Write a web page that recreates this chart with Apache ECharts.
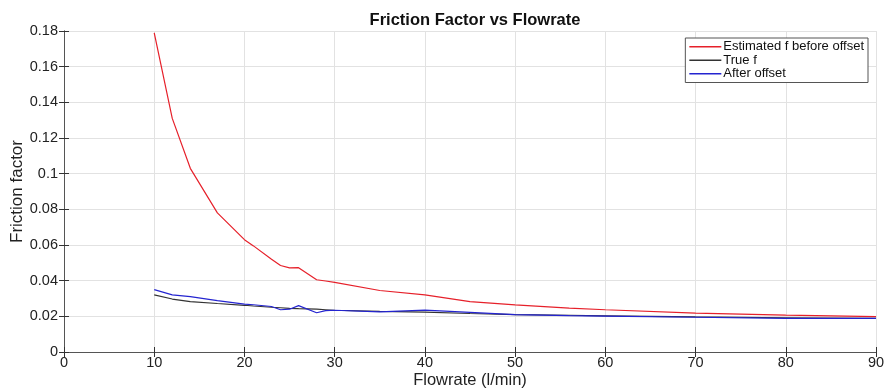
<!DOCTYPE html>
<html>
<head>
<meta charset="utf-8">
<script src="https://cdn.jsdelivr.net/npm/echarts@6/dist/echarts.min.js"></script>
<style>
  html, body { margin: 0; padding: 0; background: #fff; }
  #chart { width: 885px; height: 389px; }
</style>
</head>
<body>
<div id="chart"></div>
<script>
// flowrate (l/min) and friction factor series
const flow = [10, 12, 14, 17, 20, 21, 23, 24, 25, 26, 28, 29, 30, 35, 40, 45, 50, 56, 60, 70, 80, 90]
const estimatedF = [0.179, 0.131, 0.103, 0.078, 0.063, 0.0595, 0.052, 0.0485, 0.0472, 0.0473, 0.0405, 0.0398, 0.039, 0.0345, 0.032, 0.0283, 0.0264, 0.0246, 0.0237, 0.0218, 0.0207, 0.0198]
const trueF = [0.032, 0.0297, 0.0283, 0.0272, 0.0262, 0.0258, 0.0251, 0.0248, 0.0245, 0.0243, 0.024, 0.0237, 0.0234, 0.0228, 0.0224, 0.0216, 0.021, 0.0206, 0.0203, 0.0197, 0.0192, 0.0188]
const afterOffset = [0.035, 0.032, 0.031, 0.0288, 0.0268, 0.0265, 0.0255, 0.0237, 0.024, 0.026, 0.022, 0.0232, 0.0234, 0.0225, 0.0235, 0.0222, 0.021, 0.0204, 0.0201, 0.0195, 0.0189, 0.0188]
const seriesNames = ['Estimated f before offset', 'True f', 'After offset']
const seriesColors = ['#e6202a', '#333333', '#2424d0']

const pair = (ys) => flow.map((x, i) => [x, ys[i]])

const chart = echarts.init(document.getElementById('chart'))
const font = 'Liberation Sans, Arial, sans-serif'

// hidden mirror axes give the box ticks on top/right like matlab
const mirror = {
  axisLine: { show: true, lineStyle: { color: '#555', width: 1 } },
  axisTick: { show: true, inside: true, length: 5, lineStyle: { color: '#333' } },
  axisLabel: { show: false },
  splitLine: { show: false },
}

const option = {
  animation: false,
  backgroundColor: '#fff',
  title: {
    text: 'Friction Factor vs Flowrate',
    left: 470,
    textAlign: 'center',
    top: 7,
    textStyle: { fontFamily: font, fontSize: 16.5, fontWeight: 'bold', color: '#111' },
  },
  grid: { left: 64, right: 9, top: 31, bottom: 37, containLabel: false, outerBoundsMode: 'none' },
  legend: {
    orient: 'vertical',
    right: 17,
    top: 38,
    icon: 'rect',
    itemWidth: 32,
    itemHeight: 1.4,
    itemGap: 0,
    padding: [2, 4, 2, 4],
    borderColor: '#555',
    borderWidth: 1,
    backgroundColor: '#fff',
    textStyle: { fontFamily: font, fontSize: 13, lineHeight: 13.5, color: '#111', padding: [0, 0, 0, -3] },
    data: seriesNames,
  },
  xAxis: [
    {
      type: 'value',
      min: 0,
      max: 90,
      interval: 10,
      name: 'Flowrate (l/min)',
      nameLocation: 'middle',
      nameGap: 20,
      nameMoveOverlap: false,
      nameTextStyle: { fontFamily: font, fontSize: 16.5, color: '#222', verticalAlign: 'top' },
      axisLine: { lineStyle: { color: '#555', width: 1 } },
      axisTick: { inside: true, length: 5, lineStyle: { color: '#333' } },
      axisLabel: { fontFamily: font, fontSize: 14.5, color: '#222', margin: 3 },
      splitLine: { show: true, lineStyle: { color: '#e2e2e2', width: 1 } },
    },
    Object.assign({ type: 'value', min: 0, max: 90, interval: 10, position: 'top' }, mirror),
  ],
  yAxis: [
    {
      type: 'value',
      min: 0,
      max: 0.18,
      interval: 0.02,
      name: 'Friction factor',
      nameLocation: 'middle',
      nameGap: 38,
      nameMoveOverlap: false,
      nameTextStyle: { fontFamily: font, fontSize: 17, color: '#222' },
      axisLine: { show: true, lineStyle: { color: '#555', width: 1 } },
      axisTick: { show: true, inside: true, length: 5, lineStyle: { color: '#333' } },
      axisLabel: {
        fontFamily: font,
        fontSize: 14.5,
        color: '#222',
        margin: 6,
        formatter: (v) => String(+v.toFixed(2)),
      },
      splitLine: { show: true, lineStyle: { color: '#e2e2e2', width: 1 } },
    },
    Object.assign({ type: 'value', min: 0, max: 0.18, interval: 0.02, position: 'right' }, mirror),
  ],
  series: [estimatedF, trueF, afterOffset].map((ys, i) => ({
    name: seriesNames[i],
    type: 'line',
    data: pair(ys),
    symbol: 'none',
    smooth: false,
    lineStyle: { color: seriesColors[i], width: 1.2 },
    itemStyle: { color: seriesColors[i] },
  })),
}

chart.setOption(option)
</script>
</body>
</html>
